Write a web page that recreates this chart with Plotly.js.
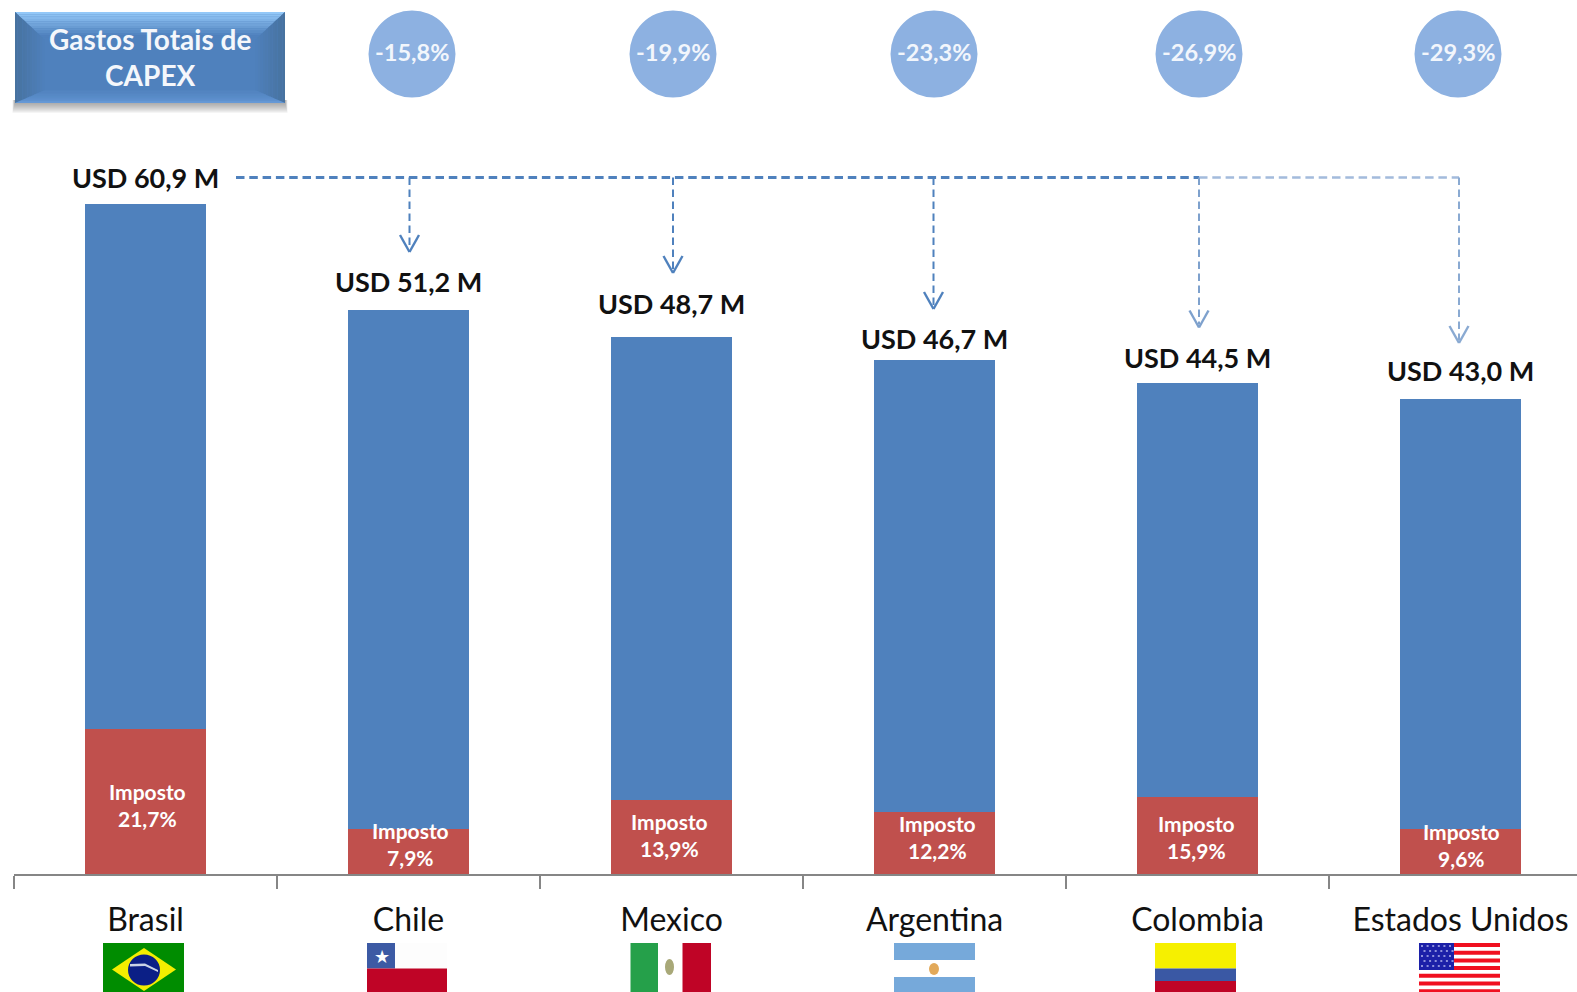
<!DOCTYPE html>
<html><head><meta charset="utf-8">
<script src="https://cdn.plot.ly/plotly-3.0.1.min.js"></script>
<style>html,body{margin:0;padding:0;background:#fff;overflow:hidden}</style>
</head><body><div id="chart" style="width:1577px;height:992px"></div>
<script>
const categories = ['Brasil','Chile','Mexico','Argentina','Colombia','Estados Unidos'];
const totals = [60.9,51.3,48.8,46.7,44.6,43.2];
const totalLabels = ['USD 60,9 M','USD 51,2 M','USD 48,7 M','USD 46,7 M','USD 44,5 M','USD 43,0 M'];
const taxValues = [13.2,4.05,6.77,5.68,6.98,4.05];
const otherValues = [47.7,47.25,42.03,41.02,37.62,39.15];
const taxLabels = ['21,7%','7,9%','13,9%','12,2%','15,9%','9,6%'];
const gapLabels = ['-15,8%','-19,9%','-23,3%','-26,9%','-29,3%'];
const boxLabel = 'Gastos Totais de<br>CAPEX';
const taxName = 'Imposto';

const L=14, T=0, W=1563, AX=874, PX=11;
const X=p=>(p-L)/W, Y=p=>(AX-p)/AX;
const FONT='Lato, "Open Sans", sans-serif';
const BLUE='#4f81bd', RED='#c0504d';
const shapes=[], annotations=[];
function rect(x0,y0,x1,y1,c,op){shapes.push({type:'rect',xref:'paper',yref:'paper',x0:X(x0),x1:X(x1),y0:Y(y0),y1:Y(y1),fillcolor:c,line:{width:0},opacity:op==null?1:op,layer:'above'});}
function poly(pts,c,op){const d='M'+pts.map(p=>X(p[0])+','+Y(p[1])).join('L')+'Z';shapes.push({type:'path',xref:'paper',yref:'paper',path:d,fillcolor:c,line:{width:0},opacity:op==null?1:op,layer:'above'});}
function lineS(x0,y0,x1,y1,c,w,dash){shapes.push({type:'line',xref:'paper',yref:'paper',x0:X(x0),x1:X(x1),y0:Y(y0),y1:Y(y1),line:{color:c,width:w,dash:dash||'solid'},layer:'above'});}
function circ(cx,cy,rx,ry,c){shapes.push({type:'circle',xref:'paper',yref:'paper',x0:X(cx-rx),x1:X(cx+rx),y0:Y(cy-ry),y1:Y(cy+ry),fillcolor:c,line:{width:0},layer:'above'});}
function mix(a,b,t){const h=s=>[1,3,5].map(i=>parseInt(s.substr(i,2),16));const A=h(a),B=h(b);return 'rgb('+A.map((v,i)=>Math.round(v+(B[i]-v)*t)).join(',')+')';}

// Box with bevel and soft shadow
for(let k=1;k<=10;k++) rect(15-k*0.25,100,285+k*0.25,103+k,'#555555',0.06);
rect(15,12,285,103,BLUE);
const bs=12;
for(let i=0;i<bs;i++){const a=i/bs,b=(i+1)/bs;
  poly([[15+a*30,12+a*28],[285-a*30,12+a*28],[285-b*30,12+b*28],[15+b*30,12+b*28]],mix('#93c8f8',BLUE,Math.min(1,a*1.25)));
  poly([[15+a*30,12+a*28],[15+b*30,12+b*28],[15+b*30,103-b*13],[15+a*30,103-a*13]],mix('#47729f',BLUE,a));
  poly([[285-a*30,12+a*28],[285-b*30,12+b*28],[285-b*30,103-b*13],[285-a*30,103-a*13]],mix('#47729f',BLUE,a));
  poly([[15+a*30,103-a*13],[285-a*30,103-a*13],[285-b*30,103-b*13],[15+b*30,103-b*13]],mix('#6699d6',BLUE,a));
}
annotations.push({xref:'paper',yref:'paper',x:X(150),y:Y(57),text:boxLabel,showarrow:false,xanchor:'center',yanchor:'middle',font:{family:FONT,size:28,color:'#f4f7fb',weight:700},align:'center'});

// Gap circles
const circX=[412,673,934,1199,1458];
gapLabels.forEach((t,i)=>{circ(circX[i],54,43.5,43.5,'#8db1e1');
 annotations.push({xref:'paper',yref:'paper',x:X(circX[i]),y:Y(52.5),text:t,showarrow:false,xanchor:'center',yanchor:'middle',font:{family:FONT,size:23.5,color:'#f2f6fc',weight:700}});});

// Dashed connectors
const arrowX=[409.5,673,933.5,1199,1459], arrowTip=[252,273,309,327.5,343];
const HY=177.5, dark='#4f81bd', light='#a3bbdc';
lineS(236,HY,1199,HY,dark,3,'8.5px,4.8px');
lineS(1199,HY,1459,HY,light,2.5,'8.5px,4.8px');
arrowX.forEach((x,i)=>{const c=i<3?dark:(i==3?'#7ea1cd':'#8aaad2');
 lineS(x,HY,x,arrowTip[i]-3,c,2,'7.5px,4.5px');
 lineS(x,arrowTip[i],x-9.5,arrowTip[i]-17,c,2.4);
 lineS(x,arrowTip[i],x+9.5,arrowTip[i]-17,c,2.4);});

// Flags
const fT=943,fB=992;
// Brazil
rect(103,fT,184,fB,'#008c00');
poly([[112,969.5],[144,948],[176,969.5],[144,991]],'#f4ee00');
circ(144,970,16,15.5,'#0b1f86');
poly([[130,964],[145,963.5],[158,970],[158,972],[145,966],[130,966.5]],'#c9d2e6');
// Chile
rect(367,fT,447,fB,'#fdfdfd');
rect(367,fT,395,968.5,'#3c5aa4');
rect(367,968.5,447,fB,'#bf0426');
annotations.push({xref:'paper',yref:'paper',x:X(381.5),y:Y(956),text:'★',showarrow:false,xanchor:'center',yanchor:'middle',font:{family:'DejaVu Sans',size:18,color:'#fff'}});
// Mexico
rect(630.5,fT,658,fB,'#25a04a');
rect(682.5,fT,711,fB,'#bf0426');
circ(669.5,967,4.5,8,'#a8a878');
// Argentina
rect(894,fT,975,960,'#76a9da');
rect(894,977,975,fB,'#76a9da');
circ(934,969,5,6,'#e2a95a');
// Colombia
rect(1155,fT,1236,968.5,'#f6f000');
rect(1155,968.5,1236,981,'#3a58a4');
rect(1155,981,1236,fB,'#bf0426');
// USA
for(let i=0;i<7;i++) rect(1419,fT+i*7.7,1500,fT+i*7.7+4,'#f01020');
rect(1419,fT,1454,970,'#1c20a8');
for(let r=0;r<5;r++)for(let c=0;c<6;c++) rect(1421+c*5.6+(r%2)*2.5,fT+2+r*5,1423+c*5.6+(r%2)*2.5,fT+4+r*5,'#8d90dc');

// Tax labels
const labelShiftY=[-4,7.5,1.5,6,-1,7], labelShiftX=[1.5,2,-2,3,-1,1];
categories.forEach((c,i)=>{annotations.push({xref:'x',yref:'y',x:c,y:taxValues[i]/2,yshift:labelShiftY[i],xshift:labelShiftX[i],text:taxName+'<br>'+taxLabels[i],showarrow:false,xanchor:'center',yanchor:'middle',align:'center',font:{family:FONT,size:21,color:'#fff',weight:700}});});

// Total labels
const totalGap=[26,28,34,22,26,28];
categories.forEach((c,i)=>{annotations.push({xref:'x',yref:'y',x:c,y:totals[i],yshift:totalGap[i]*1.005,text:totalLabels[i],showarrow:false,xanchor:'center',yanchor:'middle',font:{family:FONT,size:27,color:'#111',weight:700}});});

const traces=[
 {type:'bar',x:categories,y:taxValues,name:taxName,marker:{color:RED},width:0.46,hoverinfo:'skip'},
 {type:'bar',x:categories,y:otherValues,name:'Outros',marker:{color:BLUE},width:0.46,hoverinfo:'skip'}
];
const layout={width:1577,height:992,margin:{l:L,r:0,t:T,b:992-AX,pad:0},paper_bgcolor:'#fff',plot_bgcolor:'#fff',showlegend:false,barmode:'stack',
 xaxis:{type:'category',categoryorder:'array',categoryarray:categories,range:[-0.5,(1577-L)/263-0.5],tickson:'boundaries',ticks:'outside',ticklen:13,tickwidth:2,tickcolor:'#868686',showline:true,linecolor:'#868686',linewidth:2,showgrid:false,zeroline:false,tickfont:{family:FONT,size:32,color:'#111'},ticklabelstandoff:17,fixedrange:true},
 yaxis:{range:[0,AX/PX],visible:false,showgrid:false,zeroline:false,fixedrange:true},
 shapes,annotations};
Plotly.newPlot('chart',traces,layout,{staticPlot:true,displayModeBar:false});
</script></body></html>
